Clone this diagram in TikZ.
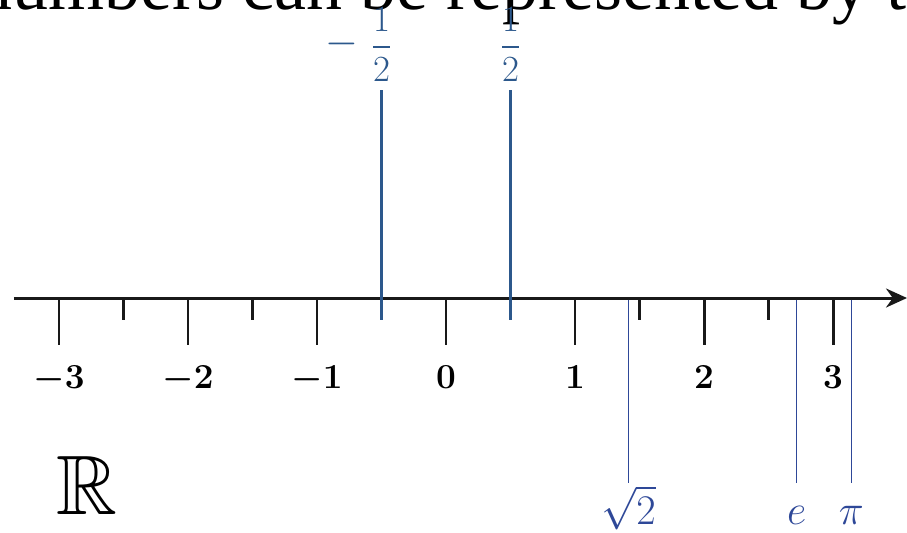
\documentclass[tikz,border=0pt]{standalone}
\usepackage{fix-cm}
\usepackage{amssymb}
\usepackage{fontspec}
\newfontfamily\headfont{Liberation Serif}
\usetikzlibrary{arrows.meta}
\definecolor{halfblue}{RGB}{44,88,140}
\definecolor{irrblue}{RGB}{46,72,152}
\begin{document}
\begin{tikzpicture}[line cap=butt,
  tickline/.style={line width=1.7pt,black!90},
  numlbl/.style={anchor=base,font=\fontsize{20}{24}\selectfont\boldmath},
  halfline/.style={line width=1.6pt,halfblue},
  halflbl/.style={anchor=base,text=halfblue,font=\fontsize{21}{25}\selectfont},
  irrline/.style={line width=0.8pt,irrblue},
  irrlbl/.style={anchor=base,text=irrblue,font=\fontsize{24}{28}\selectfont}]
\clip (-8.92,5.96) rectangle (9.22,-4.68);
% heading, cut by the page edge
\node[anchor=base west,inner sep=0,font=\headfont\fontsize{41}{48}\selectfont] (head) at (-9.4,5.78) {numbers can be represented by t};
% the line
\draw[tickline,-{Stealth[length=0.42cm,width=0.38cm]}] (-8.64,0) -- (9.22,0);
\foreach \k in {-3,...,3} {
  \draw[tickline] (2.58*\k,0) -- (2.58*\k,-0.94);
  \node[numlbl] (n\k) at (2.58*\k,-1.8) {$\k$};
}
\foreach \h in {-2.5,-1.5,-0.5,0.5,1.5,2.5} \draw[tickline] (2.58*\h,0) -- (2.58*\h,-0.44);
% halves above
\node[halflbl,label={[text=halfblue,font=\fontsize{24}{28}\selectfont,label distance=0cm]left:$-$}] (mhalf) at (-1.29,4.84) {$\displaystyle\frac{1}{2}$};
\node[halflbl] (phalf) at (1.29,4.84) {$\displaystyle\frac{1}{2}$};
\foreach \x in {-1.29,1.29} \draw[halfline] (\x,4.16) -- (\x,-0.44);
% irrationals below
\foreach \v/\t/\n in {1.4142/{$\sqrt{2}$}/sqtwo, 2.7183/{$e$}/euler, 3.1416/{$\pi$}/pi} {
  \draw[irrline] (2.58*\v,-0.03) -- (2.58*\v,-3.7);
  \node[irrlbl] (\n) at (2.58*\v,-4.52) {\t};
}
\node[font=\fontsize{48}{50}\selectfont] (reals) at (-7.18,-3.74) {$\mathbb{R}$};
\end{tikzpicture}
\end{document}
